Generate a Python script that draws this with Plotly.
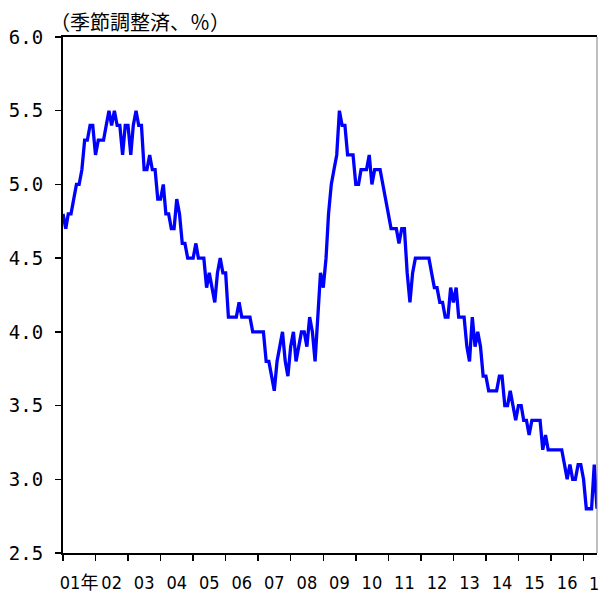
import pandas as pd
import plotly.graph_objects as go

# Unemployment rate (seasonally adjusted, %), monthly, Jan 2001 - Jun 2017
u2001 = [4.8, 4.7, 4.8, 4.8, 4.9, 5.0, 5.0, 5.1, 5.3, 5.3, 5.4, 5.4]
u2002 = [5.2, 5.3, 5.3, 5.3, 5.4, 5.5, 5.4, 5.5, 5.4, 5.4, 5.2, 5.4]
u2003 = [5.4, 5.2, 5.4, 5.5, 5.4, 5.4, 5.1, 5.1, 5.2, 5.1, 5.1, 4.9]
u2004 = [4.9, 5.0, 4.8, 4.8, 4.7, 4.7, 4.9, 4.8, 4.6, 4.6, 4.5, 4.5]
u2005 = [4.5, 4.6, 4.5, 4.5, 4.5, 4.3, 4.4, 4.3, 4.2, 4.4, 4.5, 4.4]
u2006 = [4.4, 4.1, 4.1, 4.1, 4.1, 4.2, 4.1, 4.1, 4.1, 4.1, 4.0, 4.0]
u2007 = [4.0, 4.0, 4.0, 3.8, 3.8, 3.7, 3.6, 3.8, 3.9, 4.0, 3.8, 3.7]
u2008 = [3.9, 4.0, 3.8, 3.9, 4.0, 4.0, 3.9, 4.1, 4.0, 3.8, 4.1, 4.4]
u2009 = [4.3, 4.5, 4.8, 5.0, 5.1, 5.2, 5.5, 5.4, 5.4, 5.2, 5.2, 5.2]
u2010 = [5.0, 5.0, 5.1, 5.1, 5.1, 5.2, 5.0, 5.1, 5.1, 5.1, 5.0, 4.9]
u2011 = [4.8, 4.7, 4.7, 4.7, 4.6, 4.7, 4.7, 4.4, 4.2, 4.4, 4.5, 4.5]
u2012 = [4.5, 4.5, 4.5, 4.5, 4.4, 4.3, 4.3, 4.2, 4.2, 4.1, 4.1, 4.3]
u2013 = [4.2, 4.3, 4.1, 4.1, 4.1, 3.9, 3.8, 4.1, 3.9, 4.0, 3.9, 3.7]
u2014 = [3.7, 3.6, 3.6, 3.6, 3.6, 3.7, 3.7, 3.5, 3.5, 3.6, 3.5, 3.4]
u2015 = [3.5, 3.5, 3.4, 3.4, 3.3, 3.4, 3.4, 3.4, 3.4, 3.2, 3.3, 3.2]
u2016 = [3.2, 3.2, 3.2, 3.2, 3.2, 3.1, 3.0, 3.1, 3.0, 3.0, 3.1, 3.1]
u2017 = [3.0, 2.8, 2.8, 2.8, 3.1, 2.8]

year_labels = ["01年", "02", "03", "04", "05", "06", "07", "08", "09",
               "10", "11", "12", "13", "14", "15", "16", "17"]
y_ticks = [2.5, 3.0, 3.5, 4.0, 4.5, 5.0, 5.5, 6.0]
unit_title = "（季節調整済、％）"

rate = (u2001 + u2002 + u2003 + u2004 + u2005 + u2006 + u2007 + u2008 + u2009
        + u2010 + u2011 + u2012 + u2013 + u2014 + u2015 + u2016 + u2017)
months = pd.date_range("2001-01-01", periods=len(rate), freq="MS")
start, end = months[0], months[-1]

label_dates = [pd.Timestamp(2001 + k, 7, 1) for k in range(len(year_labels))]
boundary_dates = [pd.Timestamp(2001 + k, 1, 1) for k in range(len(year_labels))]
in_lab = [(d, t) for d, t in zip(label_dates, year_labels) if d <= end]
out_lab = [(d, t) for d, t in zip(label_dates, year_labels) if d > end]

fig = go.Figure(go.Scatter(x=months, y=rate, mode="lines",
                           line=dict(color="#0000FF", width=3.3),
                           hoverinfo="skip"))

y_font = "DejaVu Sans Mono, Noto Sans CJK JP, monospace"
x_font = "DejaVu Sans Condensed, DejaVu Sans Mono, Noto Sans CJK JP, sans-serif"

fig.update_layout(
    width=598, height=593,
    margin=dict(l=63, r=1, t=37, b=40),
    paper_bgcolor="white", plot_bgcolor="white",
    showlegend=False,
    xaxis=dict(
        type="date", range=[start, end],
        tickmode="array",
        tickvals=[d for d, _ in in_lab], ticktext=[t for _, t in in_lab],
        tickangle=0, automargin=False,
        ticks="", showgrid=False, zeroline=False,
        showline=True, linecolor="black", linewidth=2, mirror=True,
        tickfont=dict(family=x_font, size=18, color="black"),
        ticklabelstandoff=12,
        minor=dict(tickmode="array", tickvals=boundary_dates, ticks="outside",
                   ticklen=6, tickwidth=1.5, tickcolor="black", showgrid=False),
    ),
    yaxis=dict(
        range=[2.5, 6.0], tickmode="array", tickvals=y_ticks, tickformat=".1f",
        ticks="outside", ticklen=6, tickwidth=1.5, tickcolor="black",
        showgrid=False, zeroline=False, automargin=False,
        showline=True, linecolor="black", linewidth=2,
        tickfont=dict(family=y_font, size=19, color="black"),
        ticklabelstandoff=8,
    ),
)

# right frame edge
fig.add_shape(type="line", xref="paper", yref="paper", x0=1, x1=1, y0=0, y1=1,
              line=dict(color="#808080", width=1))

span = (end - start).total_seconds()
for d, t in out_lab:
    fig.add_annotation(text=t, xref="paper", yref="paper",
                       x=(d - start).total_seconds() / span, y=0,
                       xanchor="center", yanchor="top", yshift=-18,
                       showarrow=False,
                       font=dict(family=x_font, size=18, color="black"))

fig.add_annotation(text=unit_title, xref="paper", yref="paper", x=0, y=1,
                   xanchor="left", yanchor="middle", xshift=-15, yshift=16,
                   showarrow=False,
                   font=dict(family="Noto Sans CJK JP", size=20, color="black"))

fig.write_html(
    "out.html",
    config={"displayModeBar": False, "staticPlot": True},
    post_script="document.body.style.margin='0';"
                "document.body.style.overflow='hidden';",
)
